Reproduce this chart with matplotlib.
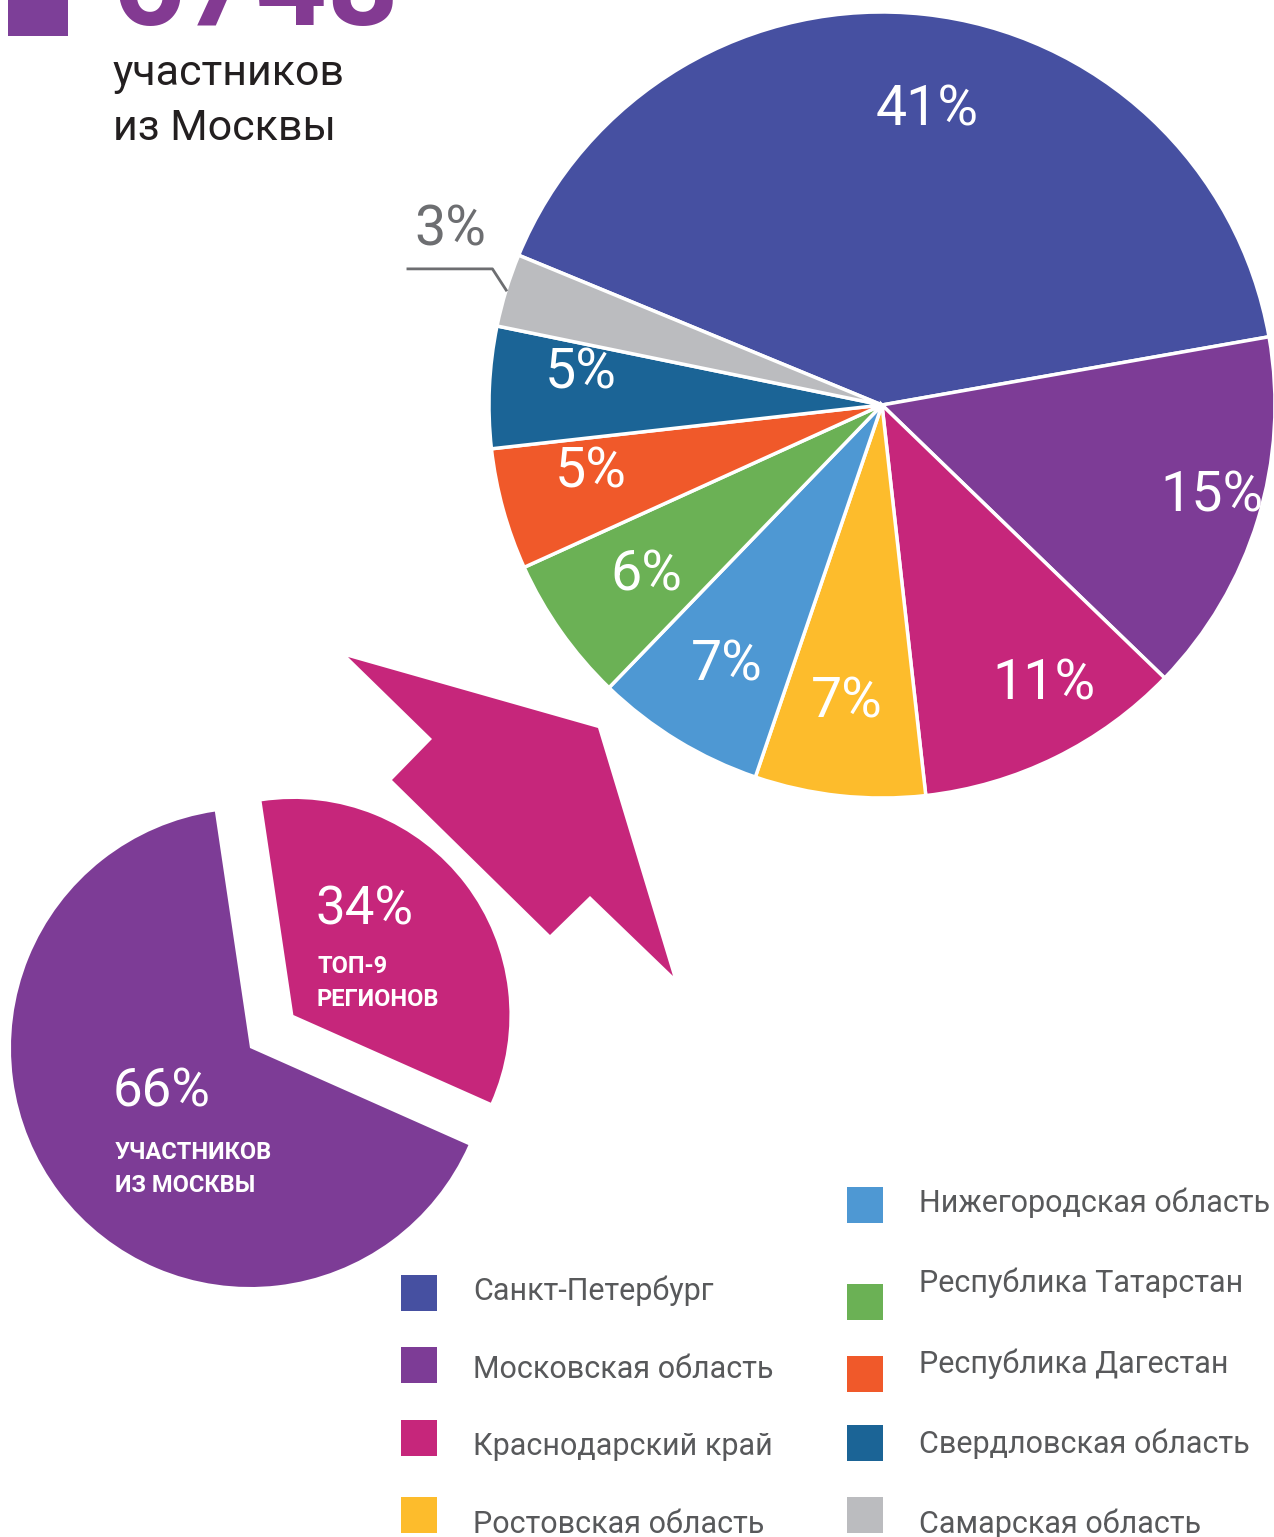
import numpy as np
import matplotlib
matplotlib.use('Agg')
import matplotlib.pyplot as plt
from matplotlib.patches import Rectangle, Polygon

plt.rcParams['font.family'] = ['Roboto', 'DejaVu Sans']

# data
regions = ['Санкт-Петербург', 'Московская область', 'Краснодарский край',
           'Ростовская область', 'Нижегородская область', 'Республика Татарстан',
           'Республика Дагестан', 'Свердловская область', 'Самарская область']
shares = [41, 15, 11, 7, 7, 6, 5, 5, 3]
colors = ['#4650A1', '#7D3C96', '#C6267B', '#FDBC2C', '#4E98D3',
          '#6BB155', '#F0592A', '#1B6496', '#BBBCBF']

moscow_split = [66, 34]
moscow_labels = ['УЧАСТНИКОВ\nИЗ МОСКВЫ', 'ТОП-9\nРЕГИОНОВ']
moscow_colors = ['#7D3C96', '#C6267B']

moscow_total = '6748'

W, H = 1274, 1537
fig = plt.figure(figsize=(W / 100, H / 100), dpi=100)


def px_axes(cx, cy, r, z=1):
    a = fig.add_axes([(cx - r) / W, 1 - (cy + r) / H, 2 * r / W, 2 * r / H], zorder=z)
    a.axis('off')
    return a


def fix_lims(a):
    a.set_xlim(-1, 1)
    a.set_ylim(-1, 1)
    a.set_aspect('equal')


# big pie: top-9 regions
ax1 = px_axes(882, 405, 393)
wedges, _ = ax1.pie(shares, colors=colors, startangle=157.6, counterclock=False,
                    radius=1, wedgeprops=dict(edgecolor='white', linewidth=2.5))
fix_lims(ax1)
for w in wedges:
    w.set_clip_on(False)

label_r = [0.76, 0.87, 0.82, 0.76, 0.77, 0.74, 0.76, 0.77]
label_shift = [-2.5, 1.5, 4, -0.5, 0.5, 0.5, -2.5, -3.5]   # degrees, fine placement
for i, w in enumerate(wedges[:-1]):
    ang = np.deg2rad((w.theta1 + w.theta2) / 2 + label_shift[i])
    ax1.text(label_r[i] * np.cos(ang), label_r[i] * np.sin(ang), f'{shares[i]}%',
             ha='center', va='center', color='white', fontsize=40, clip_on=False)

# small wedge (3%) gets an outside label with leader line
w = wedges[-1]
ang = np.deg2rad((w.theta1 + w.theta2) / 2)
tip = np.array([np.cos(ang), np.sin(ang)]) * 1.0
elbow = tip + np.array([-0.035, 0.054])
start = elbow + np.array([-0.215, 0])
ax1.plot([start[0], elbow[0], tip[0]], [start[1], elbow[1], tip[1]],
         color='#6D6E71', lw=2, clip_on=False)
ax1.text((start[0] + elbow[0]) / 2, elbow[1] + 0.06, f'{shares[-1]}%',
         ha='center', va='baseline', color='#6D6E71', fontsize=40, clip_on=False)

# small pie: Moscow vs top-9
ax2 = px_axes(250, 1048, 239)
wedges2, _ = ax2.pie(moscow_split, colors=moscow_colors, startangle=98.45,
                     explode=[0, 0.228], radius=1)
fix_lims(ax2)
wedges2[1].set_radius(0.904)
for w in wedges2:
    w.set_clip_on(False)

# overlay in pixel coords for decorations / texts / legend
ov = fig.add_axes([0, 0, 1, 1], zorder=3)
ov.set_xlim(0, W)
ov.set_ylim(H, 0)
ov.axis('off')
ov.patch.set_visible(False)

ov.add_patch(Rectangle((8, -10), 60, 46, color='#7D3F98', lw=0))
ov.text(113, 25, moscow_total, fontsize=90, fontweight='bold', color='#833A92',
        ha='left', va='baseline')
ov.text(113, 85, 'участников', fontsize=31, color='#231F20', ha='left', va='baseline')
ov.text(113, 140, 'из Москвы', fontsize=31, color='#231F20', ha='left', va='baseline')

arrow_xy = [(348, 657), (598, 728), (673, 976), (590, 896), (550, 935),
            (392, 780), (432, 739)]
ov.add_patch(Polygon(arrow_xy, closed=True, color='#C6267B', lw=0))

# labels on small pie
for (x, y_pct, y_txt), v, lab in zip([(113, 1092, 1141), (315, 910, 955)],
                                     moscow_split, moscow_labels):
    ov.text(x, y_pct, f'{v}%', fontsize=38, color='white', ha='left', va='center')
    ov.text(x + 2, y_txt, lab, fontsize=17, fontweight='bold', color='white',
            ha='left', va='top', linespacing=1.55)

# legend
sq_pos = [(401, 1275), (401, 1347), (401, 1420), (401, 1497), (847, 1187),
          (847, 1284), (847, 1356), (847, 1425), (847, 1497)]
txt_base = [1300, 1378, 1455, 1533, 1212, 1292, 1373, 1453, 1533]
for (x, y), yb, name, c in zip(sq_pos, txt_base, regions, colors):
    ov.add_patch(Rectangle((x, y), 36, 36, color=c, lw=0))
    ov.text(x + 72, yb, name, fontsize=22, color='#58595B', ha='left', va='baseline')

fig.savefig('out.png', dpi=100)
